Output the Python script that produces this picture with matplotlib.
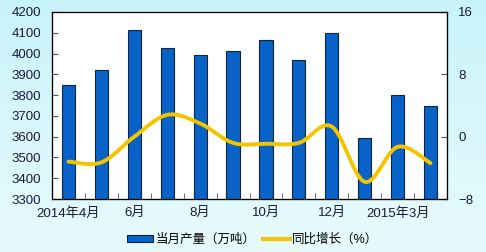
import numpy as np
import matplotlib
matplotlib.use("Agg")
import matplotlib.pyplot as plt
from matplotlib.patches import Patch
from matplotlib.lines import Line2D

plt.rcParams['font.family'] = ['Liberation Sans', 'Noto Sans CJK SC', 'DejaVu Sans']

months = ['2014年4月', '5月', '6月', '7月', '8月', '9月', '10月', '11月', '12月',
          '2015年1-2月', '2015年3月', '4月']
tick_labels = ['2014年4月', '', '6月', '', '8月', '', '10月', '', '12月', '', '2015年3月', '']
output = [3848, 3920, 4112, 4026, 3993, 4011, 4063, 3967, 4097, 3594, 3800, 3746]
growth = [-3.2, -3.3, 0.0, 2.8, 1.7, -0.8, -0.9, -0.8, 1.3, -5.8, -1.3, -3.4]

W, H = 486, 252
fig = plt.figure(figsize=(W / 100, H / 100), dpi=100)

# background gradient
bg = fig.add_axes([0, 0, 1, 1], zorder=-10)
grad = np.linspace(0, 1, 256)[:, None]
top = np.array([200, 243, 250]) / 255
bot = np.array([232, 251, 252]) / 255
img = top[None, None, :] * (1 - grad[:, :, None]) + bot[None, None, :] * grad[:, :, None]
bg.imshow(img, aspect='auto', extent=[0, 1, 0, 1])
bg.axis('off')

FS = 9.5
ax = fig.add_axes([52 / W, 1 - 199 / H, (447 - 52) / W, (199 - 12) / H])
ax.set_facecolor('white')
x = np.arange(len(months))
ax.bar(x, output, width=0.4, color='#0862c8', edgecolor='#10243c', linewidth=0.8, zorder=2)
ax.set_ylim(3300, 4200)
ax.set_xlim(-0.5, len(months) - 0.5)
ax.set_yticks(np.arange(3300, 4201, 100))
ax.set_xticks(x)
ax.set_xticklabels(tick_labels)
ax.set_xticks(np.arange(-0.5, len(months), 1), minor=True)
ax.tick_params(axis='x', which='major', length=0, labelsize=FS, pad=6, colors='#1a1a3a')
ax.tick_params(axis='x', which='minor', direction='in', length=4, color='#555555')
ax.tick_params(axis='y', direction='in', length=4, labelsize=FS, color='#555555',
               labelcolor='#1a1a3a', pad=8)
for s in ax.spines.values():
    s.set_color('#222222')
    s.set_linewidth(0.9)

ax2 = ax.twinx()
ax2.set_ylim(-8, 16)
ax2.set_yticks([-8, 0, 8, 16])
ax2.tick_params(axis='y', direction='in', length=4, labelsize=FS, color='#555555',
                labelcolor='#1a1a3a', pad=8)

# smooth line through data points (Catmull-Rom)
def smooth(xs, ys, n=20):
    xs = np.asarray(xs, float); ys = np.asarray(ys, float)
    P = np.column_stack([xs, ys])
    P = np.vstack([P[0], P, P[-1]])
    out = []
    for i in range(1, len(P) - 2):
        p0, p1, p2, p3 = P[i - 1], P[i], P[i + 1], P[i + 2]
        t = np.linspace(0, 1, n)[:, None]
        seg = 0.5 * ((2 * p1) + (-p0 + p2) * t + (2 * p0 - 5 * p1 + 4 * p2 - p3) * t ** 2
                     + (-p0 + 3 * p1 - 3 * p2 + p3) * t ** 3)
        out.append(seg if i == 1 else seg[1:])
    out = np.vstack(out)
    return out[:, 0], out[:, 1]

sx, sy = smooth(x, growth)
ax2.plot(sx, sy, color='#f5c400', linewidth=2.8, solid_capstyle='round', zorder=3)

handles = [Patch(facecolor='#0862c8', edgecolor='#10243c', linewidth=0.8),
           Line2D([0], [0], color='#f5c400', linewidth=3)]
fig.legend(handles, ['当月产量（万吨）', '同比增长（%）'], loc='center',
           bbox_to_anchor=(0.52, 1 - 240 / H), ncol=2, frameon=False, fontsize=9,
           handlelength=2.1, handleheight=0.45, columnspacing=0.6, handletextpad=0.2)

fig.savefig('out.png', dpi=100)
